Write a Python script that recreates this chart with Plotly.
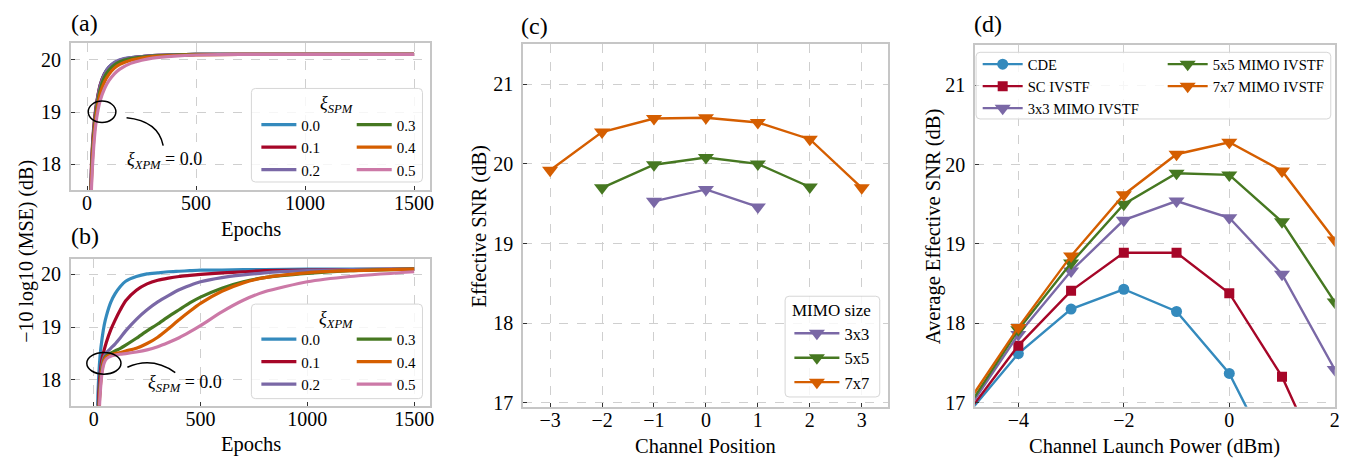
import plotly.graph_objects as go

W, H = 1347, 458
FONT = "Liberation Serif"


def px(x):
    return x / W


def py(y):
    return 1 - y / H


colors = ['#348ABD', '#A60628', '#7A68A6', '#467821', '#D55E00', '#CC79A7']
xi_labels = ['0.0', '0.1', '0.2', '0.3', '0.4', '0.5']

# ---------------- panel (a): xi_XPM = 0.0, varying xi_SPM ----------------
epochs_a = [0, 10, 20, 30, 40, 50, 60, 80, 100, 125, 150, 200, 250, 300, 400, 500, 700, 1000, 1500]
a_spm_00 = [11.5, 16.2, 17.9, 18.65, 19.05, 19.32, 19.52, 19.74, 19.86, 19.94, 19.99, 20.04, 20.06, 20.08, 20.09, 20.1, 20.1, 20.1, 20.1]
a_spm_01 = [11.5, 16.3, 18.0, 18.70, 19.08, 19.33, 19.52, 19.73, 19.85, 19.93, 19.98, 20.03, 20.06, 20.08, 20.09, 20.1, 20.1, 20.1, 20.1]
a_spm_02 = [11.4, 16.1, 17.9, 18.62, 19.03, 19.30, 19.50, 19.73, 19.86, 19.95, 20.00, 20.04, 20.06, 20.08, 20.09, 20.1, 20.1, 20.1, 20.1]
a_spm_03 = [11.3, 15.9, 17.8, 18.55, 18.96, 19.23, 19.43, 19.67, 19.80, 19.90, 19.96, 20.02, 20.05, 20.07, 20.09, 20.1, 20.1, 20.1, 20.1]
a_spm_04 = [11.2, 15.7, 17.7, 18.45, 18.88, 19.15, 19.35, 19.58, 19.72, 19.84, 19.91, 19.99, 20.03, 20.06, 20.08, 20.09, 20.1, 20.1, 20.1]
a_spm_05 = [11.0, 15.4, 17.55, 18.32, 18.77, 19.04, 19.22, 19.45, 19.60, 19.73, 19.82, 19.93, 19.99, 20.03, 20.07, 20.09, 20.1, 20.1, 20.1]
a_series = [a_spm_00, a_spm_01, a_spm_02, a_spm_03, a_spm_04, a_spm_05]

# ---------------- panel (b): xi_SPM = 0.0, varying xi_XPM ----------------
epochs_b = [0, 10, 20, 30, 40, 50, 60, 80, 100, 125, 150, 200, 250, 300, 350, 400, 450, 500, 600, 700, 800, 1000, 1200, 1500]
b_xpm_00 = [10.5, 15.5, 17.7, 18.45, 18.80, 19.05, 19.22, 19.47, 19.63, 19.77, 19.87, 19.96, 20.01, 20.03, 20.05, 20.06, 20.07, 20.08, 20.08, 20.09, 20.09, 20.1, 20.1, 20.1]
b_xpm_01 = [10.0, 14.5, 17.3, 18.10, 18.42, 18.58, 18.72, 18.95, 19.13, 19.33, 19.50, 19.70, 19.82, 19.89, 19.93, 19.96, 19.98, 20.00, 20.03, 20.05, 20.07, 20.08, 20.09, 20.1]
b_xpm_02 = [10.0, 14.0, 17.0, 17.90, 18.30, 18.45, 18.52, 18.60, 18.68, 18.80, 18.93, 19.15, 19.33, 19.48, 19.60, 19.71, 19.79, 19.86, 19.94, 19.99, 20.03, 20.07, 20.09, 20.1]
b_xpm_03 = [10.0, 14.0, 16.9, 17.85, 18.25, 18.40, 18.46, 18.51, 18.55, 18.60, 18.66, 18.79, 18.93, 19.06, 19.20, 19.33, 19.46, 19.57, 19.74, 19.86, 19.94, 20.02, 20.07, 20.1]
b_xpm_04 = [10.0, 14.0, 16.8, 17.80, 18.20, 18.38, 18.44, 18.48, 18.50, 18.52, 18.55, 18.60, 18.69, 18.81, 18.97, 19.14, 19.30, 19.45, 19.68, 19.84, 19.94, 20.03, 20.07, 20.1]
b_xpm_05 = [10.0, 13.8, 16.6, 17.70, 18.15, 18.33, 18.40, 18.45, 18.47, 18.49, 18.50, 18.53, 18.57, 18.63, 18.71, 18.80, 18.91, 19.03, 19.29, 19.51, 19.67, 19.86, 19.96, 20.05]
b_series = [b_xpm_00, b_xpm_01, b_xpm_02, b_xpm_03, b_xpm_04, b_xpm_05]

# ---------------- panel (c): effective SNR vs channel position ----------------
pos_3x3 = [-1, 0, 1]
snr_3x3 = [19.53, 19.68, 19.46]
pos_5x5 = [-2, -1, 0, 1, 2]
snr_5x5 = [19.70, 19.99, 20.08, 20.00, 19.71]
pos_7x7 = [-3, -2, -1, 0, 1, 2, 3]
snr_7x7 = [19.92, 20.40, 20.57, 20.58, 20.52, 20.31, 19.70]

# ---------------- panel (d): average effective SNR vs launch power ----------------
power_cde = [-5, -4, -3, -2, -1, 0, 1]
snr_cde = [16.83, 17.62, 18.18, 18.43, 18.15, 17.37, 16.06]
power_sc = [-5, -4, -3, -2, -1, 0, 1, 2]
snr_sc = [16.84, 17.72, 18.41, 18.89, 18.89, 18.38, 17.33, 15.87]
power_mimo = [-5, -4, -3, -2, -1, 0, 1, 2]
snr_mimo3 = [16.87, 17.86, 18.66, 19.30, 19.54, 19.33, 18.62, 17.42]
snr_mimo5 = [16.90, 17.92, 18.76, 19.50, 19.89, 19.87, 19.28, 18.27]
snr_mimo7 = [16.96, 17.95, 18.85, 19.62, 20.13, 20.28, 19.92, 19.05]

fig = go.Figure()

for i, (vals, lab) in enumerate(zip(a_series, xi_labels)):
    fig.add_trace(go.Scatter(x=epochs_a, y=vals, mode='lines', name=lab,
                             line=dict(color=colors[i], width=3.2, shape='spline', smoothing=0.6),
                             xaxis='x', yaxis='y', legend='legend' if i < 3 else 'legend2'))

for i, (vals, lab) in enumerate(zip(b_series, xi_labels)):
    fig.add_trace(go.Scatter(x=epochs_b, y=vals, mode='lines', name=lab,
                             line=dict(color=colors[i], width=3.2, shape='spline', smoothing=0.6),
                             xaxis='x2', yaxis='y2', legend='legend3' if i < 3 else 'legend4'))

for xs, ys, lab, col in [(pos_3x3, snr_3x3, '3x3', colors[2]),
                         (pos_5x5, snr_5x5, '5x5', colors[3]),
                         (pos_7x7, snr_7x7, '7x7', colors[4])]:
    fig.add_trace(go.Scatter(x=xs, y=ys, mode='lines+markers', name=lab,
                             line=dict(color=col, width=2.4),
                             marker=dict(symbol='triangle-down', size=14, color=col),
                             xaxis='x3', yaxis='y3', legend='legend5'))

d_specs = [(power_cde, snr_cde, 'CDE', colors[0], 'circle', 11, 'legend6'),
           (power_sc, snr_sc, 'SC IVSTF', colors[1], 'square', 10, 'legend6'),
           (power_mimo, snr_mimo3, '3x3 MIMO IVSTF', colors[2], 'triangle-down', 14, 'legend6'),
           (power_mimo, snr_mimo5, '5x5 MIMO IVSTF', colors[3], 'triangle-down', 14, 'legend7'),
           (power_mimo, snr_mimo7, '7x7 MIMO IVSTF', colors[4], 'triangle-down', 14, 'legend7')]
for xs, ys, lab, col, sym, sz, lg in d_specs:
    fig.add_trace(go.Scatter(x=xs, y=ys, mode='lines+markers', name=lab,
                             line=dict(color=col, width=2.4),
                             marker=dict(symbol=sym, size=sz, color=col),
                             xaxis='x4', yaxis='y4', legend=lg, cliponaxis=True))


def axis(domain, rng, tickvals, anchor, is_x):
    return dict(domain=domain, range=rng, tickvals=tickvals, anchor=anchor,
                showline=True, mirror=True, linecolor='#c6c6c6', linewidth=1.6,
                ticks='inside', ticklen=4, tickwidth=1, tickcolor='#333333',
                showgrid=True, gridcolor='#cfcfcf', griddash='dash', gridwidth=0.8,
                zeroline=False, ticklabelstandoff=(-6 if is_x else 4),
                tickfont=dict(family=FONT, size=20, color='black'))


dom_ab_x = [px(63), px(424)]
layout = dict(
    width=W, height=H, autosize=False,
    margin=dict(l=0, r=0, t=0, b=0),
    paper_bgcolor='white', plot_bgcolor='white',
    font=dict(family=FONT, color='black'),
    xaxis=axis(dom_ab_x, [-75, 1575], [0, 500, 1000, 1500], 'y', True),
    yaxis=axis([py(185), py(36)], [17.51, 20.31], [18, 19, 20], 'x', False),
    xaxis2=axis(dom_ab_x, [-107, 1576], [0, 500, 1000, 1500], 'y2', True),
    yaxis2=axis([py(404), py(255)], [17.51, 20.29], [18, 19, 20], 'x2', False),
    xaxis3=axis([px(517), px(883)], [-3.52, 3.5], [-3, -2, -1, 0, 1, 2, 3], 'y3', True),
    yaxis3=axis([py(405), py(37)], [16.95, 21.5], [17, 18, 19, 20, 21], 'x3', False),
    xaxis4=axis([px(970.7), px(1331.7)], [-4.82, 2], [-4, -2, 0, 2], 'y4', True),
    yaxis4=axis([py(405), py(38)], [16.95, 21.5], [17, 18, 19, 20, 21], 'x4', False),
)


def leg(x, ytop, size, itemwidth):
    return dict(x=px(x), y=py(ytop), xanchor='left', yanchor='top',
                bgcolor='rgba(0,0,0,0)', borderwidth=0, tracegroupgap=0,
                itemwidth=itemwidth, orientation='v',
                font=dict(family=FONT, size=size, color='black'))


layout['legend'] = leg(249.3, 102.0, 15, 35)
layout['legend2'] = leg(345.0, 102.0, 15, 35)
layout['legend3'] = leg(249.3, 319.8, 15, 35)
layout['legend4'] = leg(345.0, 319.8, 15, 35)
layout['legend5'] = leg(784.3, 312.8, 16.5, 45)
layout['legend6'] = leg(973.3, 40.8, 14.6, 40)
layout['legend7'] = leg(1159.0, 40.8, 14.6, 40)

fig.update_layout(**layout)


def rounded_box(x0, y0, x1, y1, r=4):
    # pixel coords (y down) -> paper path with rounded corners
    pts = [
        f"M {px(x0 + r)},{py(y0)}",
        f"L {px(x1 - r)},{py(y0)}",
        f"Q {px(x1)},{py(y0)} {px(x1)},{py(y0 + r)}",
        f"L {px(x1)},{py(y1 - r)}",
        f"Q {px(x1)},{py(y1)} {px(x1 - r)},{py(y1)}",
        f"L {px(x0 + r)},{py(y1)}",
        f"Q {px(x0)},{py(y1)} {px(x0)},{py(y1 - r)}",
        f"L {px(x0)},{py(y0 + r)}",
        f"Q {px(x0)},{py(y0)} {px(x0 + r)},{py(y0)}",
        "Z",
    ]
    return dict(type='path', xref='paper', yref='paper', path=' '.join(pts),
                fillcolor='rgba(255,255,255,0.8)', line=dict(color='#d6d6d6', width=1),
                layer='above')


shapes = [
    rounded_box(244.3, 81.7, 416.0, 176.7),
    rounded_box(244.3, 300.7, 416.0, 396.7),
    rounded_box(780.0, 292.7, 875.0, 395.0),
    rounded_box(971.7, 45.0, 1327.7, 112.7),
    # annotation ellipses and arcs
    dict(type='circle', xref='x', yref='y', x0=5, x1=132, y0=18.80, y1=19.21,
         line=dict(color='black', width=1.5), layer='above'),
    dict(type='path', xref='x', yref='y', path='M 181,18.89 Q 326,18.83 349,18.36',
         line=dict(color='black', width=1.5), layer='above'),
    dict(type='circle', xref='x2', yref='y2', x0=-32, x1=128, y0=18.11, y1=18.52,
         line=dict(color='black', width=1.5), layer='above'),
    dict(type='path', xref='x2', yref='y2', path='M 158,18.24 Q 274,18.45 382,18.14',
         line=dict(color='black', width=1.5), layer='above'),
]
fig.update_layout(shapes=shapes)


def ann(x, y, text, size, angle=0):
    return dict(x=px(x), y=py(y), xref='paper', yref='paper', text=text, showarrow=False,
                xanchor='center', yanchor='middle', textangle=angle,
                font=dict(family=FONT, size=size, color='black'))


annotations = [
    ann(77, 15, '(a)', 24),
    ann(77, 231.7, '(b)', 24),
    ann(528, 18, '(c)', 24),
    ann(984, 16, '(d)', 24),
    ann(243.5, 225, 'Epochs', 20.5),
    ann(243.5, 443, 'Epochs', 20.5),
    ann(19, 246.7, '\u221210 log10 (MSE) (dB)', 20, -90),
    ann(473, 221.7, 'Effective SNR (dB)', 20.5, -90),
    ann(700, 445, 'Channel Position', 20.5),
    ann(928.3, 221.7, 'Average Effective SNR (dB)', 20.5, -90),
    ann(1150.7, 445, 'Channel Launch Power (dBm)', 20.5),
    ann(330, 97.7, '<i>\u03be</i><sub><i>SPM</i></sub>', 18),
    ann(330, 316, '<i>\u03be</i><sub><i>XPM</i></sub>', 18),
    ann(827, 306.7, 'MIMO size', 17),
    dict(x=354, y=18.08, xref='x', yref='y', showarrow=False, xanchor='center', yanchor='middle',
         text='<i>\u03be</i><sub><i>XPM</i></sub> = 0.0', font=dict(family=FONT, size=18, color='black')),
    dict(x=428, y=17.93, xref='x2', yref='y2', showarrow=False, xanchor='center', yanchor='middle',
         text='<i>\u03be</i><sub><i>SPM</i></sub> = 0.0', font=dict(family=FONT, size=18, color='black')),
]
fig.update_layout(annotations=annotations)

fig.write_html("out.html")
